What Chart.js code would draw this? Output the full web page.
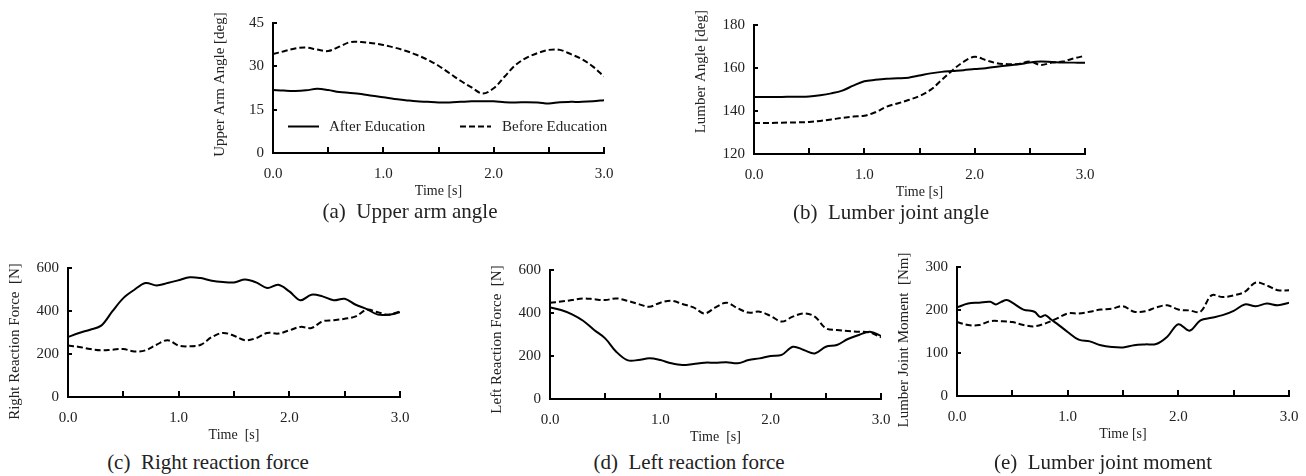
<!DOCTYPE html>
<html>
<head>
<meta charset="utf-8">
<script src="https://cdn.jsdelivr.net/npm/chart.js@4.4.2/dist/chart.umd.min.js"></script>
<style>
  body { margin: 0; background: #fff; }
  #page { position: relative; width: 1306px; height: 476px; overflow: hidden; }
  canvas { position: absolute; }
  .cap { position: absolute; font: 21px 'Liberation Serif', serif; color: #222; white-space: pre; transform: translate(-50%, -50%); }
</style>
</head>
<body>
<div id="page">
  <canvas id="chA"></canvas>
  <canvas id="chB"></canvas>
  <canvas id="chC"></canvas>
  <canvas id="chD"></canvas>
  <canvas id="chE"></canvas>
  <div class="cap" style="left:410px;top:211px">(a)  Upper arm angle</div>
  <div class="cap" style="left:891px;top:212px">(b)  Lumber joint angle</div>
  <div class="cap" style="left:208px;top:462px">(c)  Right reaction force</div>
  <div class="cap" style="left:689px;top:462px">(d)  Left reaction force</div>
  <div class="cap" style="left:1103px;top:462px">(e)  Lumber joint moment</div>
</div>
<script>
// time grid [s]
const time = [0.0, 0.1, 0.2, 0.3, 0.4, 0.5, 0.6, 0.7, 0.8, 0.9, 1.0, 1.1, 1.2, 1.3, 1.4, 1.5,
  1.6, 1.7, 1.8, 1.9, 2.0, 2.1, 2.2, 2.3, 2.4, 2.5, 2.6, 2.7, 2.8, 2.9, 3.0];

// (a) upper arm angle [deg]
const armAfter = [21.8, 21.6, 21.5, 21.7, 22.2, 21.8, 21.1, 20.8, 20.4, 19.8, 19.3, 18.7, 18.3, 17.9, 17.7, 17.5,
  17.5, 17.7, 17.9, 17.9, 17.9, 17.6, 17.5, 17.6, 17.5, 17.1, 17.6, 17.7, 17.7, 17.9, 18.3];
const armBefore = [34.3, 35.2, 36.2, 36.5, 35.8, 35.3, 36.8, 38.4, 38.4, 38.0, 37.4, 36.5, 35.4, 34.0, 32.3, 30.2,
  27.6, 25.0, 22.7, 20.6, 22.4, 26.5, 30.5, 33.0, 34.6, 35.7, 35.7, 34.2, 32.5, 29.9, 26.5];

// (b) lumber angle [deg]
const lumAfter = [146.5, 146.5, 146.5, 146.6, 146.6, 146.7, 147.3, 148.2, 149.5, 151.8, 153.8, 154.5, 155.0, 155.2, 155.5, 156.5,
  157.5, 158.2, 158.6, 159.0, 159.5, 159.9, 160.6, 161.2, 161.7, 162.6, 163.0, 162.8, 162.6, 162.5, 162.5];
const lumBefore = [134.4, 134.4, 134.5, 134.6, 134.7, 134.9, 135.4, 136.1, 136.8, 137.4, 137.8, 139.4, 142.0, 143.5, 145.1, 147.0,
  149.8, 154.4, 159.0, 162.9, 165.2, 163.7, 162.2, 161.8, 161.9, 163.0, 161.4, 162.5, 163.0, 164.5, 165.7];

// (c) right reaction force [N]
const rightAfter = [279, 298, 313, 332, 398, 460, 499, 530, 519, 530, 543, 557, 553, 541, 535, 533,
  546, 533, 507, 522, 491, 450, 476, 468, 450, 457, 429, 409, 383, 383, 394];
const rightBefore = [239, 233, 223, 217, 220, 223, 212, 217, 243, 264, 239, 236, 243, 279, 298, 285,
  264, 274, 298, 295, 310, 326, 321, 352, 357, 364, 375, 406, 394, 383, 398];

// (d) left reaction force [N]
const leftAfter = [426, 414, 394, 364, 321, 282, 220, 181, 181, 189, 181, 166, 158, 163, 169, 169,
  171, 166, 181, 189, 200, 205, 243, 228, 212, 243, 251, 279, 298, 313, 293];
const leftBefore = [448, 453, 460, 468, 464, 460, 468, 457, 442, 429, 448, 457, 442, 426, 398, 426,
  448, 422, 402, 406, 386, 360, 383, 398, 383, 329, 321, 316, 313, 309, 287];

// (e) lumber joint moment [Nm]
const momTime = [0.0, 0.1, 0.2, 0.3, 0.35, 0.4, 0.45, 0.5, 0.6, 0.7, 0.75, 0.8, 0.85, 0.9, 1.0, 1.1, 1.2, 1.3, 1.4, 1.5,
  1.6, 1.7, 1.8, 1.9, 2.0, 2.1, 2.2, 2.3, 2.4, 2.5, 2.6, 2.7, 2.8, 2.9, 3.0];
const momAfter = [206, 215, 217, 219, 213, 219, 223, 217, 201, 196, 184, 188, 178, 169, 149, 131, 127, 118, 114, 113,
  118, 120, 121, 138, 167, 152, 176, 182, 188, 198, 213, 209, 215, 211, 217];
const momBefore = [172, 165, 165, 174, 174, 172, 165, 162, 169, 180, 192, 192, 196, 201, 203, 209,
  196, 197, 206, 211, 201, 199, 196, 234, 230, 234, 242, 264, 257, 246, 246];

const FONT = "'Liberation Serif', 'Times New Roman', serif";
const W_Y = 70, PAD_T = 22, PAD_R = 26, H_X = 48;

function pts(xs, ys) {
  return ys.map((y, i) => ({ x: xs[i], y: y }));
}

// inward ticks on both axes (x every 0.5 s)
const axisTicks = {
  id: 'axisTicks',
  afterDraw(chart) {
    const { ctx, chartArea: a, scales: { x, y } } = chart;
    ctx.save();
    ctx.strokeStyle = '#000';
    ctx.lineWidth = 2;
    ctx.beginPath();
    for (let t = 0.5; t <= 3.001; t += 0.5) {
      const px = Math.round(x.getPixelForValue(t));
      ctx.moveTo(px, a.bottom);
      ctx.lineTo(px, a.bottom - 6);
    }
    y.ticks.forEach(tk => {
      const py = Math.round(y.getPixelForValue(tk.value));
      ctx.moveTo(a.left, py);
      ctx.lineTo(a.left + 4, py);
    });
    ctx.stroke();
    ctx.restore();
  }
};

// rotated y title, drawn without the width limit chart.js puts on it
const yTitle = {
  id: 'yTitle',
  afterDraw(chart, args, opts) {
    const { ctx, chartArea: a } = chart;
    ctx.save();
    ctx.translate(a.left - 52.5, (a.top + a.bottom) / 2 + opts.dy);
    ctx.rotate(-Math.PI / 2);
    ctx.font = '15px ' + FONT;
    ctx.fillStyle = '#222';
    ctx.textAlign = 'center';
    ctx.textBaseline = 'middle';
    ctx.fillText(opts.text, 0, 0);
    ctx.restore();
  }
};

// legend drawn inside the plot of (a)
const innerLegend = {
  id: 'innerLegend',
  afterDraw(chart, args, opts) {
    if (!opts.show) return;
    const { ctx, chartArea: a } = chart;
    const yy = a.top + 103.5;
    const items = [[15, 56], [187, 229]];
    ctx.save();
    ctx.font = '15px ' + FONT;
    ctx.textBaseline = 'middle';
    chart.data.datasets.forEach((ds, i) => {
      const [sx, tx] = items[i];
      ctx.strokeStyle = '#000';
      ctx.lineWidth = 2;
      ctx.setLineDash(ds.borderDash || []);
      ctx.beginPath();
      ctx.moveTo(a.left + sx, yy);
      ctx.lineTo(a.left + sx + 31, yy);
      ctx.stroke();
      ctx.fillStyle = '#222';
      ctx.fillText(ds.label, a.left + tx, yy + 1);
    });
    ctx.restore();
  }
};

function makeChart(id, box, xs, after, before, yMin, yMax, yStep, yText, yDy, xText, legend) {
  const cv = document.getElementById(id);
  const w = W_Y + (box.r - box.l) + PAD_R;
  const h = PAD_T + (box.b - box.t) + H_X;
  cv.width = w; cv.height = h;
  cv.style.width = w + 'px'; cv.style.height = h + 'px';
  cv.style.left = (box.l - W_Y) + 'px';
  cv.style.top = (box.t - PAD_T) + 'px';
  const xsBefore = before.length === xs.length ? xs : time;
  return new Chart(cv.getContext('2d'), {
    type: 'line',
    data: {
      datasets: [{
        label: 'After Education',
        data: pts(xs, after),
        borderColor: '#000',
        borderWidth: 2,
        pointRadius: 0,
        tension: 0.35,
        fill: false
      }, {
        label: 'Before Education',
        data: pts(xsBefore, before),
        borderColor: '#000',
        borderWidth: 2,
        borderDash: [6, 3],
        pointRadius: 0,
        tension: 0.35,
        fill: false
      }]
    },
    options: {
      responsive: false,
      animation: false,
      layout: { padding: { left: 0, top: PAD_T, right: PAD_R, bottom: 0 } },
      plugins: {
        legend: { display: false },
        tooltip: { enabled: false },
        innerLegend: { show: legend },
        yTitle: { text: yText, dy: yDy }
      },
      scales: {
        x: {
          type: 'linear',
          min: 0, max: 3,
          afterFit: s => { s.height = H_X; },
          grid: { display: false, drawTicks: false },
          border: { display: true, color: '#000', width: 2 },
          ticks: {
            stepSize: 1,
            padding: 12,
            color: '#222',
            font: { family: FONT, size: 15 },
            callback: v => v.toFixed(1)
          },
          title: {
            display: true,
            text: xText,
            color: '#222',
            font: { family: FONT, size: 14 },
            padding: { top: 0, bottom: 1.5 }
          }
        },
        y: {
          min: yMin, max: yMax,
          afterFit: s => { s.width = W_Y; },
          grid: { display: false, drawTicks: false },
          border: { display: true, color: '#000', width: 2 },
          ticks: {
            stepSize: yStep,
            padding: 9,
            color: '#222',
            font: { family: FONT, size: 15 }
          }
        }
      }
    },
    plugins: [axisTicks, yTitle, innerLegend]
  });
}

makeChart('chA', { l: 273, r: 604, t: 23, b: 153 }, time, armAfter, armBefore, 0, 45, 15,
  'Upper Arm Angle [deg]', -3.5, 'Time [s]', true);
makeChart('chB', { l: 754, r: 1085, t: 25, b: 154 }, time, lumAfter, lumBefore, 120, 180, 20,
  'Lumber Angle [deg]', -17.8, 'Time [s]', false);
makeChart('chC', { l: 68, r: 400, t: 268, b: 397 }, time, rightAfter, rightBefore, 0, 600, 200,
  'Right Reaction Force  [N]', 9, 'Time  [s]', false);
makeChart('chD', { l: 550, r: 881, t: 270, b: 399 }, time, leftAfter, leftBefore, 0, 600, 200,
  'Left Reaction Force  [N]', 5, 'Time  [s]', false);
makeChart('chE', { l: 957, r: 1289, t: 267, b: 396 }, momTime, momAfter, momBefore, 0, 300, 100,
  'Lumber Joint Moment  [Nm]', 8.5, 'Time [s]', false);
</script>
</body>
</html>
